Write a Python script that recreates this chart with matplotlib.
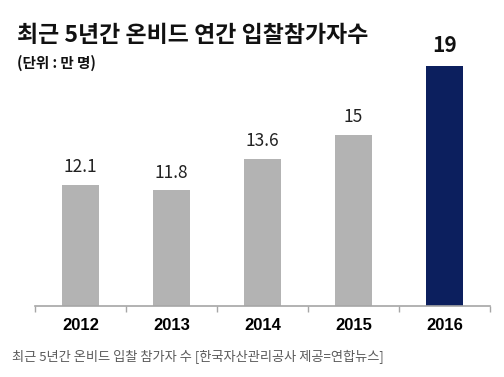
import matplotlib.pyplot as plt

plt.rcParams['font.family'] = ['Noto Sans CJK KR', 'DejaVu Sans']

years = ['2012', '2013', '2014', '2015', '2016']
values = [12.1, 11.8, 13.6, 15, 19]
labels = ['12.1', '11.8', '13.6', '15', '19']
colors = ['#b3b3b3', '#b3b3b3', '#b3b3b3', '#b3b3b3', '#0c1f5e']

fig = plt.figure(figsize=(5.04, 3.77), dpi=100)
# axes placed in pixel terms: x 35..490, y 40..306 (from top)
ax = fig.add_axes([35 / 504, 1 - 306 / 377, 455 / 504, 266 / 377])

x = range(len(years))
ax.bar(x, values, width=0.4, color=colors)
ax.set_xlim(-0.5, len(years) - 0.5)
ax.set_ylim(5.09, 20.5)

for i, (v, lab) in enumerate(zip(values, labels)):
    if i == len(values) - 1:
        ax.text(i, v + 0.6, lab, ha='center', va='bottom', fontsize=15,
                fontweight='bold', color='#111111')
    else:
        ax.text(i, v + 0.5, lab, ha='center', va='bottom', fontsize=12.5,
                color='#222222')

for s in ['top', 'right', 'left']:
    ax.spines[s].set_visible(False)
ax.spines['bottom'].set_color('#a6a6a6')
ax.spines['bottom'].set_linewidth(1.2)
ax.set_yticks([])
# boundary ticks between categories
ax.set_xticks([i - 0.5 for i in range(len(years) + 1)])
ax.set_xticklabels([''] * (len(years) + 1))
ax.tick_params(axis='x', length=4, color='#a6a6a6', width=1)
ax.set_xticks(list(x), minor=True)
ax.set_xticklabels(years, minor=True, fontsize=12, fontweight='bold',
                   family=['Liberation Sans', 'DejaVu Sans'])
ax.tick_params(axis='x', which='minor', length=0, pad=9)

fig.text(17 / 504, 1 - 36 / 377, '최근 5년간 온비드 연간 입찰참가자수', fontsize=16.5,
         fontweight='bold', va='center', ha='left', color='#111111')
fig.text(17 / 504, 1 - 63 / 377, '(단위 : 만 명)', fontsize=10.5,
         fontweight='bold', va='center', ha='left', color='#111111')
fig.text(12 / 504, 1 - 357 / 377, '최근 5년간 온비드 입찰 참가자 수 [한국자산관리공사 제공=연합뉴스]',
         fontsize=9.5, va='center', ha='left', color='#5a5a5a')

fig.savefig('out.png', dpi=100)
